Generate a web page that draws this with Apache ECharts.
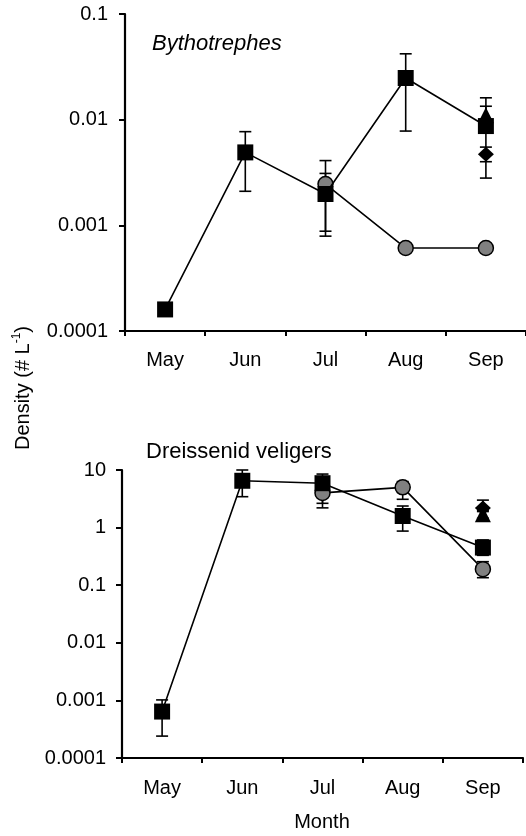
<!DOCTYPE html>
<html>
<head>
<meta charset="utf-8">
<script src="https://cdn.jsdelivr.net/npm/echarts@6/dist/echarts.min.js"></script>
<style>
html,body{margin:0;padding:0;background:#fff;}
#chart{width:526px;height:836px;}
</style>
</head>
<body>
<div id="chart"></div>
<script>
const months = ['May', 'Jun', 'Jul', 'Aug', 'Sep'];
const topTickLabels = ['0.0001', '0.001', '0.01', '0.1'];
const bottomTickLabels = ['0.0001', '0.001', '0.01', '0.1', '1', '10'];

// Bythotrephes (top panel)
const bythSquare      = [0.00016, 0.0049, 0.00198, 0.0248, 0.0087];
const bythSquareLow   = [null, 0.0021, 0.00088, 0.0078, 0.0028];
const bythSquareHigh  = [null, 0.0077, 0.0041, 0.042, 0.0134];
const bythCircle      = [null, null, 0.00246, 0.00061, 0.00061];
const bythCircleLow   = [null, null, 0.00079, null, null];
const bythCircleHigh  = [null, null, 0.0031, null, null];
const bythTriangle    = [null, null, null, null, 0.011];
const bythTriangleLow = [null, null, null, null, 0.009];
const bythTriangleHigh= [null, null, null, null, 0.0161];
const bythDiamond     = [null, null, null, null, 0.0047];
const bythDiamondLow  = [null, null, null, null, 0.0040];
const bythDiamondHigh = [null, null, null, null, 0.0055];

// Dreissenid veligers (bottom panel)
const velSquare       = [0.00064, 6.5, 5.9, 1.59, 0.45];
const velSquareLow    = [0.00024, 3.44, 2.64, 0.87, 0.33];
const velSquareHigh   = [0.00102, 10.0, 8.5, 2.37, 0.61];
const velCircle       = [null, null, 4.0, 5.0, 0.19];
const velCircleLow    = [null, null, 2.2, 3.1, 0.135];
const velCircleHigh   = [null, null, 4.6, 6.3, 0.256];
const velTriangle     = [null, null, null, null, 1.7];
const velTriangleLow  = [null, null, null, null, 1.45];
const velTriangleHigh = [null, null, null, null, 2.0];
const velDiamond      = [null, null, null, null, 2.2];
const velDiamondLow   = [null, null, null, null, 1.9];
const velDiamondHigh  = [null, null, null, null, 3.0];

const FONT = '"Liberation Sans", Arial, Helvetica, sans-serif';

function errData(low, high) {
  const out = [];
  for (let i = 0; i < low.length; i++) {
    if (low[i] != null && high[i] != null) out.push([i, low[i], high[i]]);
  }
  return out;
}
function valData(arr) {
  return arr.map(v => (v == null ? '-' : v));
}

function renderErr(params, api) {
  const x = api.value(0);
  const pLo = api.coord([x, api.value(1)]);
  const pHi = api.coord([x, api.value(2)]);
  const w = 6;
  const st = { stroke: '#000', lineWidth: 1.6 };
  return {
    type: 'group',
    children: [
      { type: 'line', shape: { x1: pLo[0], y1: pLo[1], x2: pHi[0], y2: pHi[1] }, style: st },
      { type: 'line', shape: { x1: pLo[0] - w, y1: pLo[1], x2: pLo[0] + w, y2: pLo[1] }, style: st },
      { type: 'line', shape: { x1: pHi[0] - w, y1: pHi[1], x2: pHi[0] + w, y2: pHi[1] }, style: st }
    ]
  };
}

function errSeries(idx, low, high) {
  return {
    type: 'custom', xAxisIndex: idx, yAxisIndex: idx, z: 1,
    renderItem: renderErr, encode: { x: 0, y: [1, 2] },
    data: errData(low, high), silent: true
  };
}

function pointSeries(idx, data, symbol, size, color, withLine, z) {
  return {
    type: 'line', xAxisIndex: idx, yAxisIndex: idx, z: z,
    data: valData(data), symbol: symbol, symbolSize: size,
    showAllSymbol: true, connectNulls: false, silent: true,
    lineStyle: withLine ? { color: '#000', width: 1.6 } : { width: 0, opacity: 0 },
    itemStyle: color === 'gray'
      ? { color: '#808080', borderColor: '#000', borderWidth: 1.5, opacity: 1 }
      : { color: '#000', borderColor: '#000', borderWidth: 0, opacity: 1 },
    emphasis: { disabled: true }
  };
}

function xAxis(gridIndex, margin) {
  return {
    type: 'category', gridIndex: gridIndex, data: months, boundaryGap: true,
    axisLine: { show: true, lineStyle: { color: '#000', width: 2.2 } },
    axisTick: { show: true, alignWithLabel: false, length: 5, lineStyle: { color: '#000', width: 2 } },
    axisLabel: { color: '#000', fontSize: 20, fontFamily: FONT, margin: margin },
    splitLine: { show: false }
  };
}
function yAxis(gridIndex, min, max, labels, margin) {
  return {
    type: 'log', logBase: 10, gridIndex: gridIndex, min: min, max: max,
    axisLine: { show: true, lineStyle: { color: '#000', width: 2.2 } },
    axisTick: { show: true, length: 6, lineStyle: { color: '#000', width: 2 } },
    minorTick: { show: false },
    splitLine: { show: false },
    axisLabel: {
      color: '#000', fontSize: 20, fontFamily: FONT, margin: margin,
      formatter: function (v) {
        const i = Math.round(Math.log10(v)) + 4;
        return labels[i] !== undefined ? labels[i] : '';
      }
    }
  };
}

const chart = echarts.init(document.getElementById('chart'), null, { renderer: 'canvas' });
chart.setOption({
  animation: false,
  backgroundColor: '#fff',
  grid: [
    { left: 125, top: 14, width: 405, height: 317 },
    { left: 122, top: 470, width: 401, height: 288 }
  ],
  xAxis: [xAxis(0, 19), xAxis(1, 20)],
  yAxis: [yAxis(0, 0.0001, 0.1, topTickLabels, 17), yAxis(1, 0.0001, 10, bottomTickLabels, 16)],
  graphic: [
    { type: 'text', x: 152, y: 44, style: { text: 'Bythotrephes', font: 'italic 22px ' + FONT, fill: '#000', align: 'left', verticalAlign: 'middle' } },
    { type: 'text', x: 146, y: 452, style: { text: 'Dreissenid veligers', font: '22px ' + FONT, fill: '#000', align: 'left', verticalAlign: 'middle' } },
    { type: 'text', x: 322, y: 822, style: { text: 'Month', font: '20px ' + FONT, fill: '#000', align: 'center', verticalAlign: 'middle' } },
    { type: 'text', x: 23, y: 388, rotation: Math.PI / 2,
      style: {
        text: '{a|Density (# L}{b|-1}{a|)}',
        align: 'center', verticalAlign: 'middle',
        rich: {
          a: { fontSize: 20, fontFamily: FONT, fill: '#000', color: '#000', lineHeight: 24 },
          b: { fontSize: 12, fontFamily: FONT, fill: '#000', color: '#000', verticalAlign: 'top', lineHeight: 24, padding: [0, 0, 8, 0] }
        }
      }
    }
  ],
  series: [
    errSeries(0, bythSquareLow, bythSquareHigh),
    errSeries(0, bythCircleLow, bythCircleHigh),
    errSeries(0, bythTriangleLow, bythTriangleHigh),
    errSeries(0, bythDiamondLow, bythDiamondHigh),
    pointSeries(0, bythCircle, 'circle', 15, 'gray', true, 2),
    pointSeries(0, bythTriangle, 'triangle', 16, 'black', false, 3),
    pointSeries(0, bythSquare, 'rect', 16, 'black', true, 4),
    pointSeries(0, bythDiamond, 'diamond', [16, 15], 'black', false, 5),

    errSeries(1, velSquareLow, velSquareHigh),
    errSeries(1, velCircleLow, velCircleHigh),
    errSeries(1, velTriangleLow, velTriangleHigh),
    errSeries(1, velDiamondLow, velDiamondHigh),
    pointSeries(1, velCircle, 'circle', 15, 'gray', true, 2),
    pointSeries(1, velTriangle, 'triangle', 16, 'black', false, 3),
    pointSeries(1, velDiamond, 'diamond', [16, 15], 'black', false, 4),
    pointSeries(1, velSquare, 'rect', 16, 'black', true, 5)
  ]
});
</script>
</body>
</html>
